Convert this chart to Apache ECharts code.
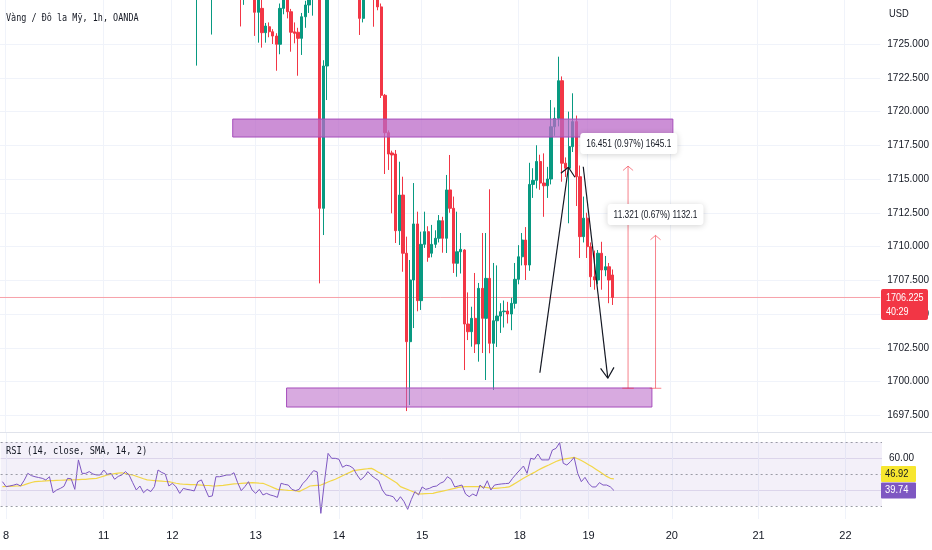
<!DOCTYPE html>
<html><head><meta charset="utf-8">
<script src="https://cdn.jsdelivr.net/npm/echarts@6/dist/echarts.min.js"></script>
<style>html,body{margin:0;padding:0;background:#fff}#c{width:932px;height:550px}</style>
</head><body><div id="c"></div>
<script>
// ---------- data ----------
const titleText = 'Vàng / Đô la Mỹ, 1h, OANDA';
const rsiTitle = 'RSI (14, close, SMA, 14, 2)';
const dayTickBars = [1, 28, 47, 70, 93, 116, 143, 162, 185, 209, 233];
const dayTickLabels = ['8', '11', '12', '13', '14', '15', '18', '19', '20', '21', '22'];
const priceTicks = [1697.5, 1700, 1702.5, 1705, 1707.5, 1710, 1712.5, 1715, 1717.5, 1720, 1722.5, 1725];
const rsiGridTicks = [40, 60];
const rsiLabelTicks = [60];
const rsiBands = [70, 50, 30];
const lastPrice = 1706.225;
const countdown = '40:29';
const firstBar = 54;
// [open, close, low, high] per hourly bar, null = bar outside the visible price range
const candles = [
  [1728.8,1729.8,1723.4,1730.5], null, null, null,
  [1728.9,1729.6,1725.7,1730.2], null, null, null, null, null, null, null,
  [1729.8,1729.0,1726.3,1730.3],
  [1728.9,1729.5,1727.9,1730.0], null, null,
  [1729.5,1727.35,1725.6,1730.0],
  [1727.35,1729.0,1725.1,1729.6],
  [1727.64,1725.84,1724.73,1728.5],
  [1725.84,1726.33,1725.1,1726.56],
  [1726.28,1725.91,1725.5,1726.6],
  [1725.91,1725.59,1725.0,1726.1],
  [1725.59,1724.98,1723.02,1725.8],
  [1724.98,1727.64,1724.24,1728.0],
  [1727.64,1729.0,1727.2,1729.8],
  [1729.0,1727.39,1726.9,1729.6],
  [1727.39,1725.87,1724.43,1727.6],
  [1725.9,1725.79,1725.05,1726.6],
  [1725.87,1725.42,1722.65,1726.2],
  [1725.42,1727.02,1724.19,1727.3],
  [1727.02,1727.89,1726.2,1728.2],
  [1727.89,1729.0,1727.3,1729.5],
  [1729.0,1729.5,1727.1,1730.0],
  null,
  [1729.5,1712.83,1707.27,1730.0],
  [1712.83,1723.37,1710.85,1723.8],
  [1723.37,1729.0,1720.85,1729.8],
  null, null, null, null, null, null, null, null,
  [1729.3,1726.9,1725.67,1730.0],
  [1726.9,1729.0,1726.6,1729.6],
  null, null,
  [1729.6,1729.0,1726.28,1730.1],
  [1729.3,1727.75,1727.5,1730.0],
  [1727.75,1721.2,1721.0,1728.0],
  [1721.2,1718.43,1715.37,1721.3],
  [1718.43,1716.85,1715.67,1718.6],
  [1716.93,1716.78,1712.46,1717.1],
  [1716.85,1711.17,1710.26,1717.15],
  [1711.17,1713.81,1710.11,1716.28],
  [1713.81,1709.5,1708.13,1715.17],
  [1709.5,1702.95,1697.81,1710.73],
  [1702.95,1707.52,1698.26,1709.0],
  [1707.52,1711.67,1703.96,1714.7],
  [1711.67,1705.99,1705.2,1712.58],
  [1705.99,1710.16,1705.3,1711.1],
  [1710.16,1711.1,1709.9,1712.58],
  [1711.1,1709.2,1708.87,1711.5],
  [1709.5,1710.16,1709.2,1711.6],
  [1710.16,1710.61,1709.9,1711.2],
  [1710.61,1711.91,1710.3,1712.33],
  [1711.91,1710.61,1709.54,1712.2],
  [1710.61,1714.19,1709.52,1715.3],
  [1714.19,1712.83,1712.5,1716.78],
  [1712.83,1708.76,1708.04,1713.7],
  [1708.76,1709.61,1707.76,1712.58],
  [1709.61,1709.79,1708.0,1711.0],
  [1709.74,1704.26,1700.85,1709.8],
  [1704.26,1703.69,1703.07,1706.6],
  [1703.69,1704.68,1702.58,1705.54],
  [1704.68,1702.78,1702.11,1708.04],
  [1702.78,1706.9,1701.47,1707.3],
  [1706.9,1704.68,1702.11,1711.0],
  [1704.68,1707.64,1700.11,1711.0],
  [1707.64,1702.83,1702.09,1714.24],
  [1702.83,1704.5,1699.37,1708.78],
  [1704.5,1704.85,1702.56,1708.6],
  [1704.85,1705.17,1703.6,1705.8],
  [1705.17,1705.22,1704.0,1706.0],
  [1705.22,1705.0,1704.3,1705.9],
  [1705.0,1705.79,1703.8,1706.2],
  [1705.79,1707.57,1705.4,1708.78],
  [1707.57,1709.24,1707.2,1710.1],
  [1709.24,1710.48,1708.6,1711.0],
  [1710.48,1708.63,1707.52,1711.44],
  [1708.63,1714.6,1708.2,1716.2],
  [1714.6,1714.9,1713.6,1715.8],
  [1714.9,1716.3,1714.3,1717.5],
  [1716.3,1714.7,1714.2,1716.8],
  [1714.7,1714.5,1712.2,1716.9],
  [1714.5,1715.0,1713.6,1715.9],
  [1715.0,1718.87,1714.6,1720.85],
  [1718.87,1719.49,1718.2,1720.3],
  [1719.49,1722.28,1718.9,1724.06],
  [1722.28,1716.17,1714.8,1722.6],
  [1716.17,1715.8,1715.15,1716.6],
  [1715.8,1717.4,1711.72,1719.99],
  [1717.4,1719.25,1717.0,1721.35],
  [1719.25,1715.17,1713.0,1719.7],
  [1715.17,1710.73,1709.15,1716.0],
  [1710.73,1712.1,1710.3,1713.7],
  [1712.1,1709.99,1709.15,1712.5],
  [1709.99,1707.76,1707.0,1710.3],
  [1707.76,1707.52,1706.8,1709.7],
  [1707.52,1709.5,1707.2,1709.74],
  [1709.5,1708.26,1706.8,1710.35],
  [1708.26,1708.5,1707.8,1709.3],
  [1708.5,1707.52,1705.8,1708.78],
  [1707.89,1706.225,1705.67,1708.3]
];
const rsiValues = [
  45.2,42.1,42.5,43.0,43.7,42.5,46.0,50.4,49.0,48.3,
  47.8,47.3,46.3,48.3,38.3,40.0,41.0,42.3,47.3,47.0,
  40.4,58.8,50.4,50.4,51.5,50.0,49.4,49.4,52.5,49.8,
  50.4,46.7,48.5,49.4,51.5,49.4,44.6,40.0,42.5,38.3,
  40.4,39.0,42.1,52.5,51.0,50.0,42.5,44.2,41.9,37.9,
  41.0,40.4,40.0,39.4,45.2,46.3,41.0,35.8,36.3,48.3,
  48.3,48.8,49.4,49.4,50.8,44.6,39.6,42.1,45.2,40.0,
  37.9,40.4,36.9,37.9,36.9,36.3,35.4,44.2,43.5,43.1,
  40.4,39.6,40.4,44.0,46.3,49.4,52.1,51.3,25.4,45.2,
  62.9,59.8,59.8,59.2,54.2,55.5,55.0,53.5,49.4,46.3,
  48.3,51.5,49.0,47.3,45.8,40.0,36.9,36.5,35.8,32.7,
  35.8,32.7,27.9,34.0,39.0,36.9,41.9,40.4,41.0,42.1,
  42.5,44.2,45.2,48.3,46.7,41.9,42.5,43.1,37.5,35.8,
  37.5,36.3,43.1,41.0,45.8,40.0,43.1,43.5,43.8,44.0,
  44.2,47.3,50.0,52.5,55.0,50.4,59.8,59.2,62.5,58.8,
  58.8,58.8,65.0,66.0,69.6,56.7,55.6,57.7,60.4,50.4,
  45.2,47.9,44.2,41.9,41.9,44.6,43.1,43.1,42.0,39.74
];
const rsiMaValues = [
  42.1,42.2,42.3,42.4,42.5,42.5,43.2,44.0,44.7,45.2,
  45.4,45.5,45.7,45.8,45.9,46.0,46.1,46.2,46.3,46.3,
  46.4,46.5,46.6,46.7,46.9,47.1,47.3,48.0,48.7,49.4,
  49.8,50.2,50.5,50.8,50.3,49.8,49.4,48.6,47.8,47.0,
  46.3,46.1,45.9,45.7,45.5,45.3,45.2,44.7,44.2,43.8,
  43.6,43.5,43.4,43.3,43.2,43.1,42.9,42.8,42.6,42.5,
  42.7,42.9,43.2,43.5,43.8,43.9,44.1,44.3,44.5,44.6,
  44.5,44.3,44.2,43.3,42.3,41.3,40.4,40.2,40.0,39.8,
  39.7,39.6,39.0,40.2,41.3,42.5,42.7,42.9,43.1,44.0,
  45.0,45.9,46.7,47.8,48.9,50.0,51.0,52.1,52.4,52.7,
  53.0,53.3,53.5,52.4,51.0,50.0,48.6,47.2,45.8,44.4,
  42.1,41.2,40.3,39.4,38.4,37.5,37.6,37.7,37.8,37.9,
  38.5,39.0,39.5,40.0,40.5,41.0,41.6,42.0,42.1,42.1,
  42.1,42.1,42.1,41.8,41.5,41.2,41.0,41.2,41.4,41.6,
  41.9,43.2,44.6,46.0,47.3,48.6,49.8,51.0,52.3,53.5,
  54.6,55.6,56.7,57.8,58.7,59.2,59.6,60.0,60.4,59.5,
  58.4,57.2,55.8,54.5,53.0,51.5,50.0,48.5,47.3,46.92
];
// drawings anchored in (bar index, price)
const zoneRects = [
  [[63.9, 1719.44], [185.7, 1718.11]],
  [[78.8, 1699.52], [179.9, 1698.11]]
];
const trendLines = [
  [[148.9, 1700.65], [156.8, 1715.87]],
  [[154.7, 1715.42], [156.8, 1715.87], [158.6, 1715.13]],
  [[160.9, 1715.91], [167.7, 1700.24]],
  [[165.7, 1700.98], [167.7, 1700.24], [169.4, 1701.05]]
];
const measureBars = [173.3, 180.9];
const measureFrom = [1699.5, 1699.5];
const measureTo = [1715.951, 1710.821];
const measureTexts = ['16.451 (0.97%) 1645.1', '11.321 (0.67%) 1132.1'];
const measureLabelAt = [[173.5, 1717.63], [180.9, 1712.37]];

// ---------- chart ----------
const xMin = -0.5, xMax = 243.1;
const axisFont = "'Liberation Sans', Arial, sans-serif";
const chart = echarts.init(document.getElementById('c'));

function mkX(g, showLabels) {
  return {
    type: 'value', gridIndex: g, min: xMin, max: xMax,
    axisLine: { show: false },
    axisTick: { show: false, customValues: dayTickBars },
    axisLabel: {
      show: showLabels, customValues: dayTickBars,
      formatter: v => { const k = dayTickBars.indexOf(v); return k >= 0 ? dayTickLabels[k] : ''; },
      color: '#131722', fontSize: 11, margin: 11, fontFamily: axisFont
    },
    splitLine: { show: true, lineStyle: { color: '#f0f3fa', width: 1 } }
  };
}

const candleData = [];
candles.forEach((c, k) => { if (c) candleData.push([firstBar + k].concat(c)); });

const drawingSeries = trendLines.map(pts => ({
  type: 'line', xAxisIndex: 0, yAxisIndex: 0, data: pts, symbol: 'none', silent: true, z: 6,
  lineStyle: { color: '#131722', width: 1.2 }
}));
const measColor = 'rgba(242,54,69,0.62)';
measureBars.forEach((b, k) => {
  const lo = measureFrom[k], hi = measureTo[k];
  [
    [[b, lo], [b, hi]],
    [[b - 1.6, lo], [b + 1.6, lo]],
    [[b - 1.4, hi - 0.32], [b, hi], [b + 1.4, hi - 0.32]]
  ].forEach(pts => drawingSeries.push({
    type: 'line', xAxisIndex: 0, yAxisIndex: 0, data: pts, symbol: 'none', silent: true, z: 6,
    lineStyle: { color: measColor, width: 1 }
  }));
});
// last-price line across the pane
drawingSeries.push({
  type: 'line', xAxisIndex: 0, yAxisIndex: 0, data: [[xMin, lastPrice], [xMax, lastPrice]],
  symbol: 'none', silent: true, z: 1, lineStyle: { color: '#f7a1a9', width: 1 }
});

const option = {
  animation: false,
  backgroundColor: '#ffffff',
  grid: [
    { left: 0, top: 0, width: 882, height: 432 },
    { left: 0, top: 433, width: 882, height: 86 }
  ],
  xAxis: [mkX(0, false), mkX(1, true)],
  yAxis: [
    {
      type: 'value', gridIndex: 0, position: 'right', min: 1696.26, max: 1728.26,
      axisLine: { show: false },
      axisTick: { show: false, customValues: priceTicks },
      axisLabel: { customValues: priceTicks, formatter: v => v.toFixed(3), color: '#131722', fontSize: 10, margin: 7, fontFamily: axisFont },
      splitLine: { show: true, lineStyle: { color: '#f0f3fa', width: 1 } }
    },
    {
      type: 'value', gridIndex: 1, position: 'right', min: 21.875, max: 75.625,
      axisLine: { show: false },
      axisTick: { show: false, customValues: rsiGridTicks },
      axisLabel: { customValues: rsiLabelTicks, formatter: v => v.toFixed(2), color: '#131722', fontSize: 10, margin: 7, fontFamily: axisFont },
      splitLine: { show: true, lineStyle: { color: '#e6e2f0', width: 1 } }
    }
  ],
  series: [
    {
      type: 'candlestick', name: 'XAUUSD', xAxisIndex: 0, yAxisIndex: 0,
      data: candleData, encode: { x: 0, y: [1, 2, 3, 4] }, barWidth: 2.8, z: 2,
      itemStyle: { color: '#089981', color0: '#f23645', borderColor: '#089981', borderColor0: '#f23645', borderWidth: 1 },
      markArea: {
        silent: true, z: 3,
        data: zoneRects.map((r, k) => [
          { coord: r[0], itemStyle: { color: k === 0 ? 'rgba(186,104,200,0.74)' : 'rgba(186,104,200,0.56)', borderColor: '#a64dbb', borderWidth: 1 } },
          { coord: r[1] }
        ])
      }
    },
    {
      type: 'line', name: 'RSI', xAxisIndex: 1, yAxisIndex: 1,
      data: rsiValues.map((v, i) => [i, v]), symbol: 'none', z: 4,
      lineStyle: { color: '#7e57c2', width: 1 },
      markLine: {
        silent: true, symbol: ['none', 'none'], label: { show: false },
        lineStyle: { color: '#9a9ca6', width: 1, type: [2, 3] },
        data: rsiBands.map(v => ({ yAxis: v }))
      },
      markArea: {
        silent: true,
        itemStyle: { color: 'rgba(126,87,194,0.09)' },
        data: [[{ yAxis: rsiBands[2] }, { yAxis: rsiBands[0] }]]
      }
    },
    {
      type: 'line', name: 'RSI MA', xAxisIndex: 1, yAxisIndex: 1,
      data: rsiMaValues.map((v, i) => [i, v]), symbol: 'none', z: 3,
      lineStyle: { color: '#f2d648', width: 1.2 }
    }
  ].concat(drawingSeries)
};
chart.setOption(option);

// ---------- overlay labels ----------
const monoFont = '11px "DejaVu Sans Mono", monospace';
const boxFont = '11px "Liberation Sans", Arial, sans-serif';
const g = [];
g.push({ type: 'line', z: 100, shape: { x1: 0, y1: 432.5, x2: 932, y2: 432.5 }, style: { stroke: '#e0e3eb', lineWidth: 1 } });
g.push({ type: 'text', z: 100, x: 6, y: 18, scaleX: 0.77, style: { text: titleText, font: monoFont, fill: '#131722', verticalAlign: 'middle' } });
g.push({ type: 'text', z: 100, x: 6, y: 451, scaleX: 0.79, style: { text: rsiTitle, font: monoFont, fill: '#131722', verticalAlign: 'middle' } });
g.push({ type: 'text', z: 100, x: 889, y: 14, scaleX: 0.85, style: { text: 'USD', font: boxFont, fill: '#131722', verticalAlign: 'middle' } });

const py = chart.convertToPixel({ yAxisIndex: 0 }, lastPrice);
g.push({ type: 'rect', z: 100, shape: { x: 881, y: py - 8.5, width: 47, height: 31, r: 2 }, style: { fill: '#f23645' } });
g.push({ type: 'text', z: 101, x: 886, y: py, scaleX: 0.82, style: { text: lastPrice.toFixed(3), font: boxFont, fill: '#ffffff', verticalAlign: 'middle' } });
g.push({ type: 'text', z: 101, x: 886, y: py + 14, scaleX: 0.82, style: { text: countdown, font: boxFont, fill: '#ffffff', verticalAlign: 'middle' } });

const rsiLast = rsiValues[rsiValues.length - 1];
const maLast = rsiMaValues[rsiMaValues.length - 1];
const ry = chart.convertToPixel({ yAxisIndex: 1 }, rsiLast);
const my = Math.min(chart.convertToPixel({ yAxisIndex: 1 }, maLast), ry - 16.5);
g.push({ type: 'rect', z: 100, shape: { x: 881, y: my - 8, width: 35, height: 16, r: 1 }, style: { fill: '#f7e62f' } });
g.push({ type: 'text', z: 101, x: 885, y: my, scaleX: 0.85, style: { text: maLast.toFixed(2), font: boxFont, fill: '#131722', verticalAlign: 'middle' } });
g.push({ type: 'rect', z: 100, shape: { x: 881, y: ry - 8, width: 35, height: 16, r: 1 }, style: { fill: '#7e57c2' } });
g.push({ type: 'text', z: 101, x: 885, y: ry, scaleX: 0.85, style: { text: rsiLast.toFixed(2), font: boxFont, fill: '#ffffff', verticalAlign: 'middle' } });

measureTexts.forEach((t, k) => {
  const p = chart.convertToPixel({ gridIndex: 0 }, measureLabelAt[k]);
  g.push({
    type: 'text', z: 102, x: p[0], y: p[1], scaleX: 0.76,
    style: {
      text: t, font: boxFont, fill: '#131722', align: 'center', verticalAlign: 'middle',
      backgroundColor: '#ffffff', padding: [5, 8], borderRadius: 4,
      shadowBlur: 6, shadowColor: 'rgba(0,0,0,0.18)', shadowOffsetY: 1
    }
  });
});
chart.setOption({ graphic: g });
</script>
</body></html>
